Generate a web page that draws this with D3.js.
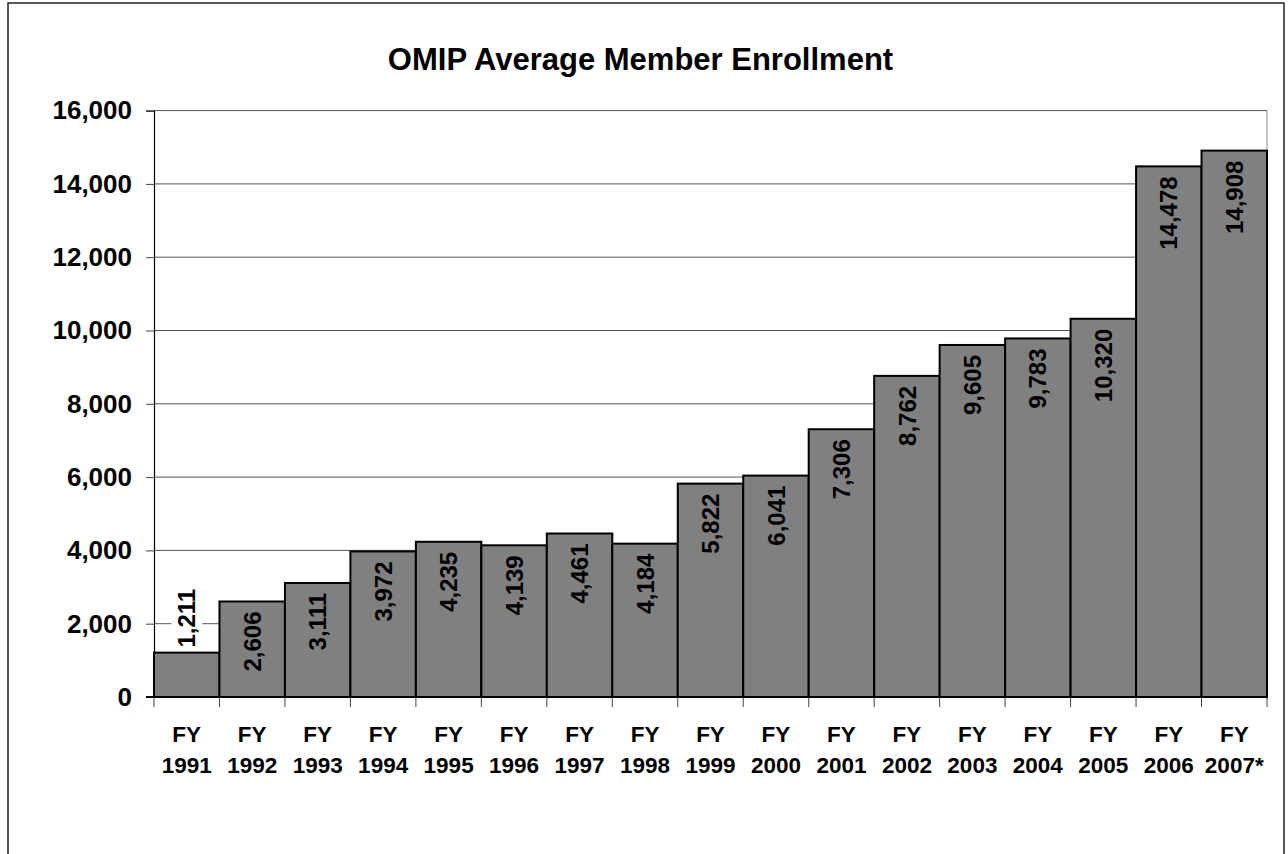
<!DOCTYPE html>
<html>
<head>
<meta charset="utf-8">
<script src="https://cdn.jsdelivr.net/npm/d3@7"></script>
<style>
  html, body { margin: 0; padding: 0; background: #fff; }
  svg { display: block; font-family: "Liberation Sans", Arial, sans-serif; font-weight: bold; }
</style>
</head>
<body>
<div id="chart"></div>
<script>
// Fiscal years and average enrollment
const years = ["1991", "1992", "1993", "1994", "1995", "1996", "1997", "1998", "1999",
               "2000", "2001", "2002", "2003", "2004", "2005", "2006", "2007*"];
const enrollment = [1211, 2606, 3111, 3972, 4235, 4139, 4461, 4184, 5822,
                    6041, 7306, 8762, 9605, 9783, 10320, 14478, 14908];
const yTicks = [0, 2000, 4000, 6000, 8000, 10000, 12000, 14000, 16000];

const W = 1288, H = 854;
const plot = { left: 154, right: 1267, top: 110.6, bottom: 697 };

const svg = d3.select("#chart").append("svg")
    .attr("width", W)
    .attr("height", H);

svg.append("rect").attr("width", W).attr("height", H).attr("fill", "#fff");

// outer chart border (runs off the bottom of the picture)
svg.append("rect")
    .attr("x", 8).attr("y", 3)
    .attr("width", 1276).attr("height", 900)
    .attr("fill", "none")
    .attr("stroke", "#222")
    .attr("stroke-width", 1.5);

svg.append("text")
    .attr("x", 640.5).attr("y", 70)
    .attr("text-anchor", "middle")
    .attr("font-size", 31)
    .text("OMIP Average Member Enrollment");

const data = years.map((y, i) => ({ year: y, value: enrollment[i] }));

const x = d3.scaleBand()
    .domain(years)
    .range([plot.left, plot.right])
    .padding(0);

const y = d3.scaleLinear()
    .domain([0, 16000])
    .range([plot.bottom, plot.top]);

// gridlines
svg.append("g")
    .selectAll("line")
    .data(yTicks.filter(d => d > 0))
    .enter().append("line")
    .attr("x1", plot.left).attr("x2", plot.right)
    .attr("y1", d => y(d)).attr("y2", d => y(d))
    .attr("stroke", "#555")
    .attr("stroke-width", 1);

// right edge of the plot area
svg.append("line")
    .attr("x1", plot.right).attr("x2", plot.right)
    .attr("y1", plot.top).attr("y2", plot.bottom)
    .attr("stroke", "#888");

// y axis
const yAxis = svg.append("g")
    .attr("transform", `translate(${plot.left},0)`)
    .call(d3.axisLeft(y)
        .tickValues(yTicks)
        .tickSize(8)
        .tickPadding(14)
        .tickFormat(d3.format(",")));
yAxis.select(".domain").attr("stroke", "#000").attr("stroke-width", 1.2);
yAxis.selectAll(".tick line").attr("stroke", "#444");
yAxis.selectAll("text")
    .attr("font-size", 26)
    .attr("font-family", "Liberation Sans, Arial, sans-serif")
    .attr("font-weight", "bold")
    .attr("fill", "#000");

// bars
svg.append("g")
    .selectAll("rect")
    .data(data)
    .enter().append("rect")
    .attr("x", d => x(d.year))
    .attr("y", d => y(d.value))
    .attr("width", x.bandwidth())
    .attr("height", d => y(0) - y(d.value))
    .attr("fill", "#808080")
    .attr("stroke", "#000")
    .attr("stroke-width", 2);

// x axis ticks at category boundaries
const bounds = years.map(d => x(d)).concat([plot.right]);
svg.append("g")
    .selectAll("line")
    .data(bounds)
    .enter().append("line")
    .attr("x1", d => d).attr("x2", d => d)
    .attr("y1", plot.bottom).attr("y2", plot.bottom + 10)
    .attr("stroke", "#444");
svg.append("line")
    .attr("x1", plot.left - 8).attr("x2", plot.right)
    .attr("y1", plot.bottom).attr("y2", plot.bottom)
    .attr("stroke", "#000")
    .attr("stroke-width", 2);

// x labels, two lines
const xl = svg.append("g")
    .selectAll("text")
    .data(years)
    .enter().append("text")
    .attr("text-anchor", "middle")
    .attr("font-size", 22.5)
    .attr("transform", d => `translate(${x(d) + x.bandwidth() / 2},0)`);
xl.append("tspan").attr("x", 0).attr("y", 742).text("FY");
xl.append("tspan").attr("x", 0).attr("y", 773).text(d => d);

// value labels, rotated; short bar gets its label above with a white box
const fmt = d3.format(",");
const labels = svg.append("g")
    .selectAll("g")
    .data(data)
    .enter().append("g")
    .attr("transform", d => {
        const cx = x(d.year) + x.bandwidth() / 2;
        const inside = d.value > 2000;
        const yy = inside ? y(d.value) + 10 : y(d.value) - 5;
        return `translate(${cx},${yy}) rotate(-90)`;
    });

labels.each(function(d) {
    const g = d3.select(this);
    const inside = d.value > 2000;
    const t = g.append("text")
        .attr("text-anchor", inside ? "end" : "start")
        .attr("dy", "0.36em")
        .attr("font-size", 24)
        .attr("fill", "#000")
        .text(fmt(d.value));
    if (!inside) {
        const bb = t.node().getBBox();
        g.insert("rect", "text")
            .attr("x", bb.x - 2).attr("y", bb.y - 2)
            .attr("width", bb.width + 4).attr("height", bb.height + 4)
            .attr("fill", "#fff");
    }
});
</script>
</body>
</html>
